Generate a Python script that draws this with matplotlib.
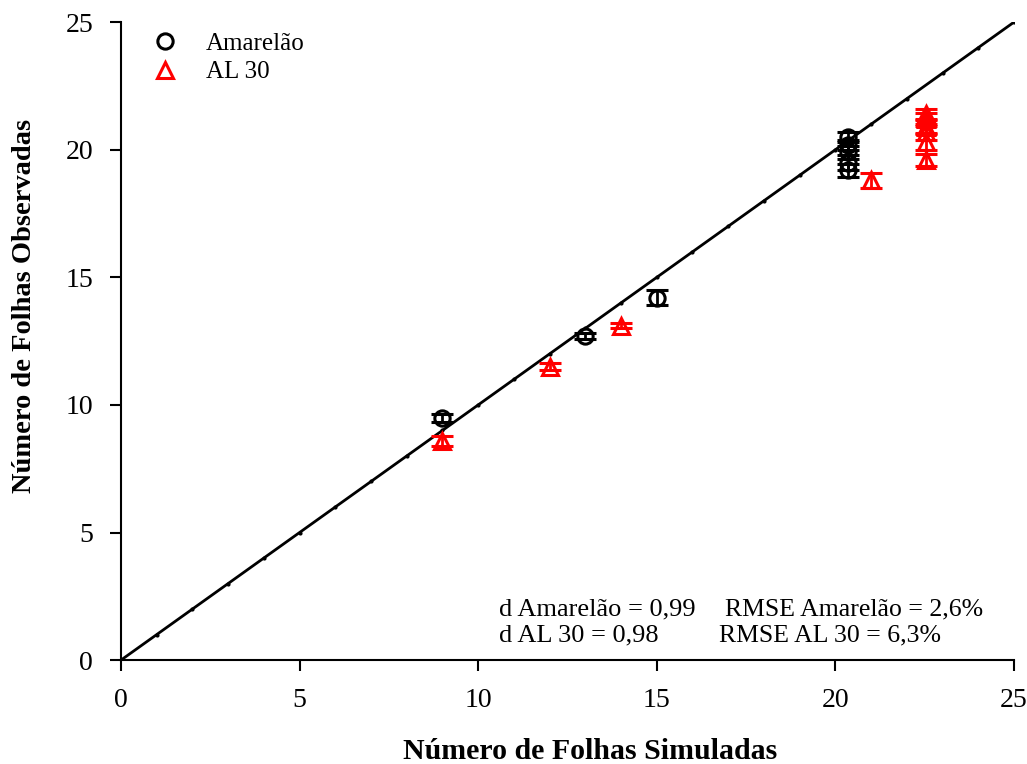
import numpy as np
import matplotlib.pyplot as plt

plt.rcParams['font.family'] = ['Liberation Serif', 'DejaVu Serif']

# Amarelao
am_sim = [9, 13, 15, 20.35, 20.35, 20.35, 20.35, 20.35]
am_obs = [9.5, 12.7, 14.2, 20.5, 20.2, 19.9, 19.5, 19.2]
am_err = [0.15, 0.1, 0.3, 0.2, 0.2, 0.25, 0.3, 0.25]

# AL 30
al_sim = [9, 12, 14, 21, 22.55, 22.55, 22.55, 22.55, 22.55, 22.55]
al_obs = [8.6, 11.5, 13.1, 18.8, 21.4, 21.2, 20.9, 20.7, 20.3, 19.6]
al_err = [0.2, 0.15, 0.1, 0.3, 0.2, 0.25, 0.25, 0.3, 0.3, 0.25]

line_x = np.arange(0, 26)

fig = plt.figure(figsize=(10.27, 7.64), dpi=100)
ax = fig.add_axes([0.1178, 0.136, 0.8695, 0.835])

ax.plot(line_x, line_x, color='black', lw=2, marker='o', ms=2, zorder=1)

ax.errorbar(am_sim, am_obs, yerr=am_err, fmt='o', mfc='none', mec='black',
            ecolor='black', ms=11, mew=2.2, capsize=8, capthick=2, elinewidth=2,
            label='Amarelão', zorder=3)
ax.errorbar(al_sim, al_obs, yerr=al_err, fmt='^', mfc='none', mec='red',
            ecolor='red', ms=11, mew=2.2, capsize=8, capthick=2, elinewidth=2,
            label='AL 30', zorder=2)

ax.set_xlim(0, 25)
ax.set_ylim(0, 25)
ax.set_xticks([0, 5, 10, 15, 20, 25])
ax.set_yticks([0, 5, 10, 15, 20, 25])
ax.spines['top'].set_visible(False)
ax.spines['right'].set_visible(False)
ax.spines['left'].set_linewidth(1.5)
ax.spines['bottom'].set_linewidth(1.5)
ax.tick_params(direction='out', length=8, width=1.5, labelsize=20, pad=12)

ax.set_xlabel('Número de Folhas Simuladas', fontsize=21.5, fontweight='bold', va='center')
ax.set_ylabel('Número de Folhas Observadas', fontsize=20.5, fontweight='bold', va='center')
ax.xaxis.set_label_coords(0.525, -0.144)
ax.yaxis.set_label_coords(-0.1075, 0.555)

handles, labels = ax.get_legend_handles_labels()
handles = [h[0] for h in handles]
ax.legend(handles, labels, loc='upper left', frameon=False, fontsize=18,
          bbox_to_anchor=(0.017, 1.0), handletextpad=0.9, handlelength=1.5,
          labelspacing=0.25, borderaxespad=0)

ax.text(10.58, 1.76, 'd Amarelão = 0,99', fontsize=19)
ax.text(10.58, 0.74, 'd AL 30 = 0,98', fontsize=19)
ax.text(16.91, 1.76, 'RMSE Amarelão = 2,6%', fontsize=18.5)
ax.text(16.74, 0.74, 'RMSE AL 30 = 6,3%', fontsize=18.5)

fig.savefig('out.png', dpi=100)
